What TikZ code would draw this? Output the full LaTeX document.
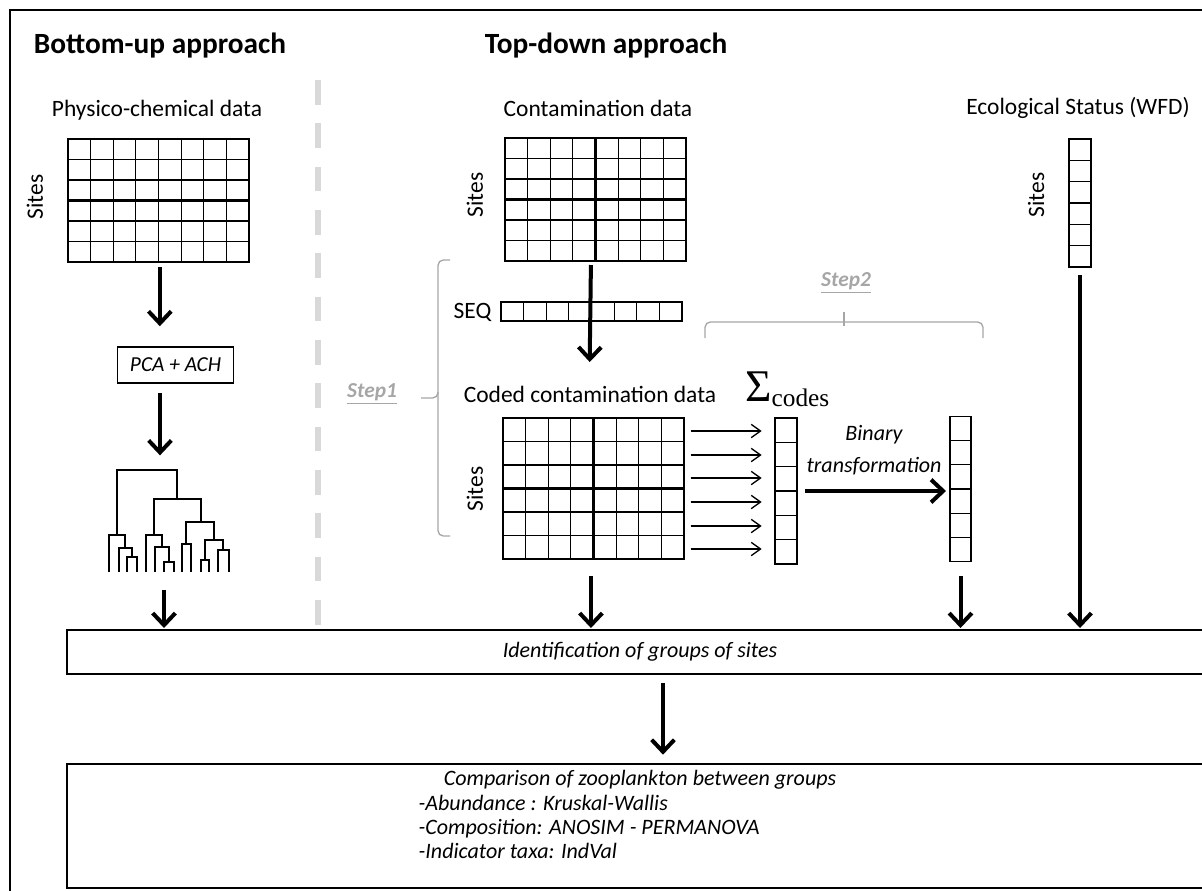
\documentclass[tikz,border=0pt]{standalone}
\usepackage{fontspec}
\setmainfont{Carlito}
\newfontfamily\sigmafont{Liberation Serif}
\usepackage{tikz}
\usetikzlibrary{arrows.meta,calc,positioning}
\definecolor{stepgray}{RGB}{166,166,166}
\definecolor{splitgray}{RGB}{217,217,217}
\newcommand{\pxu}{0.75pt}
% inner lines of a data table: node, number of cuts, number of cells
\newcommand{\colcuts}[3]{\foreach \k in {1,...,#2}
  \draw[cellline] ($(#1.north west)!\k/#3!(#1.north east)$) -- ($(#1.south west)!\k/#3!(#1.south east)$);}
\newcommand{\rowcuts}[3]{\foreach \k in {1,...,#2}
  \draw[cellline] ($(#1.north west)!\k/#3!(#1.south west)$) -- ($(#1.north east)!\k/#3!(#1.south east)$);}
\tikzset{
  heading/.style = {font=\fontsize{22}{26}\selectfont\bfseries},
  caption/.style = {font=\fontsize{17.6}{21}\selectfont},
  sites/.style   = {caption, rotate=90},
  table/.style   = {draw, line width=1pt, inner sep=0pt, outer sep=0pt},
  cellline/.style = {line width=0.8pt},
  midline/.style = {line width=1.6pt},
  flow/.style    = {line width=3pt, -{Straight Barb[length=9pt,width=17pt]}},
  thinflow/.style = {line width=1pt, -{Straight Barb[length=7pt,width=10pt]}},
  method/.style  = {draw, line width=1.2pt, inner sep=0pt,
                    font=\fontsize{16}{19}\selectfont\itshape},
  stage/.style   = {draw, line width=1.5pt, inner sep=0pt, outer sep=0pt},
  note/.style    = {font=\fontsize{16.5}{24}\selectfont\itshape},
  steplabel/.style = {text=stepgray, font=\fontsize{16}{19}\selectfont\bfseries\itshape},
  bracket/.style = {draw=stepgray, line width=1pt, rounded corners=4pt},
  tree/.style    = {line width=1.7pt},
}
\begin{document}
\begin{tikzpicture}[x=0.75pt, y=-0.75pt]
	\useasboundingbox (0,0) rectangle (1202,890);
	\clip (0,0) rectangle (1202,890);
	\draw[line width=2pt] (10,920) -- (10,10) -- (1230,10);
	\draw[splitgray, line width=3.8pt, dash pattern=on 18.5pt off 14pt] (318,80) -- (318,625);

	\node[heading] (bottomup) at (160,46) {Bottom-up approach};
	\node[heading] (topdown) at (606,46) {Top-down approach};

	% bottom-up column
	\node[caption] (physlabel) at (157,110) {Physico-chemical data};
	\node[table, minimum width=181*\pxu, minimum height=123*\pxu] (phys) at (158.5,200.5) {};
	\colcuts{phys}{7}{8}
	\rowcuts{phys}{5}{6}
	\draw[midline] (phys.west) -- (phys.east);
	\node[sites] (physsites) at (35,197) {Sites};
	\node[method, minimum width=116*\pxu, minimum height=36*\pxu] (pca) at (175.5,365) {PCA + ACH};
	\coordinate (treetop) at (160,470);
	\coordinate (treefoot) at (164,590);
	\draw[tree] (116.7,535) -- (116.7,470) -- (177.3,470) -- (177.3,499);
	\draw[tree] (154,535) -- (154,499) -- (200.7,499) -- (200.7,521.7);
	\draw[tree] (109,572) -- (109,535) -- (125,535) -- (125,548);
	\draw[tree] (119,572) -- (119,548) -- (132,548) -- (132,557);
	\draw[tree] (127,572) -- (127,557) -- (137,557) -- (137,572);
	\draw[tree] (145.7,572) -- (145.7,535) -- (161.7,535) -- (161.7,547);
	\draw[tree] (155,572) -- (155,547) -- (169,547) -- (169,562);
	\draw[tree] (164,572) -- (164,562) -- (174,562) -- (174,572);
	\draw[tree] (186,544.3) -- (186,521.7) -- (214,521.7) -- (214,540);
	\draw[tree] (181.7,572) -- (181.7,544.3) -- (191,544.3) -- (191,572);
	\draw[tree] (205.3,560) -- (205.3,540) -- (223.3,540) -- (223.3,550);
	\draw[tree] (200.7,572) -- (200.7,560) -- (209.3,560) -- (209.3,572);
	\draw[tree] (218.3,572) -- (218.3,550) -- (228.7,550) -- (228.7,572);

	% top-down column
	\node[caption] (contlabel) at (598,108) {Contamination data};
	\node[table, minimum width=181*\pxu, minimum height=123*\pxu] (cont) at (595.5,199.5) {};
	\colcuts{cont}{7}{8}
	\rowcuts{cont}{5}{6}
	\draw[midline] (cont.west) -- (cont.east);
	\draw[midline] (cont.north) -- (cont.south);
	\node[sites] (contsites) at (475,195) {Sites};
	\node[table, minimum width=181*\pxu, minimum height=19*\pxu] (seq) at (591.5,311.5) {};
	\colcuts{seq}{7}{8}
	\node[caption, anchor=east] (seqlabel) at (496,312) {SEQ};
	\node[caption] (codedlabel) at (590,394) {Coded contamination data};
	\node[table, minimum width=181*\pxu, minimum height=141*\pxu] (coded) at (593.5,488.5) {};
	\colcuts{coded}{7}{8}
	\rowcuts{coded}{5}{6}
	\draw[midline] (coded.west) -- (coded.east);
	\draw[midline] (coded.north) -- (coded.south);
	\node[sites] (codedsites) at (475,489) {Sites};
	\node[anchor=base west, inner sep=0pt] (sigma) at (745,401)
		{\sigmafont\fontsize{34}{34}\selectfont Σ\raisebox{-4pt}{\fontsize{19}{19}\selectfont codes}};
	\node[table, minimum width=22*\pxu, minimum height=146*\pxu] (sigcol) at (786,491) {};
	\rowcuts{sigcol}{5}{6}
	\node[note, align=center] (binlabel) at (874,450) {Binary\\transformation};
	\node[table, minimum width=21*\pxu, minimum height=144.5*\pxu] (bincol) at (960.5,489) {};
	\rowcuts{bincol}{5}{6}
	\node[caption] (ecolabel) at (1078,108) {Ecological Status (WFD)};
	\node[table, minimum width=22*\pxu, minimum height=128*\pxu] (eco) at (1080,203) {};
	\rowcuts{eco}{5}{6}
	\node[sites] (ecosites) at (1036,195) {Sites};

	% steps
	\draw[bracket] (450,260) -- (438,260) -- (438,398) -- (421,398);
	\draw[bracket] (438,392) -- (438,536) -- (450,536);
	\node[steplabel] (step1) at (372,394) {\underline{Step1}};
	\draw[bracket] (705,338) -- (705,322) -- (983,322) -- (983,338);
	\draw[bracket] (844,326) -- (844,312);
	\node[steplabel] (step2) at (846,283) {\underline{Step2}};

	% groups and comparison
	\node[stage, minimum width=1146*\pxu, minimum height=44*\pxu] (idbox) at (640,652) {};
	\node[note] (idtext) at (640,652) {Identification of groups of sites};
	\node[stage, minimum width=1146*\pxu, minimum height=124*\pxu] (compbox) at (640,826) {};
	\node[note] (comptitle) at (640,780) {Comparison of zooplankton between groups};
	\node[note, anchor=west, align=left, font=\fontsize{16.5}{18}\selectfont\itshape] (complist) at (414,827)
		{-Abundance : Kruskal-Wallis\\
		-Composition: ANOSIM - PERMANOVA\\
		-Indicator taxa: IndVal};

	% arrows
	\draw[flow, shorten <=4pt, shorten >=15pt] ([xshift=1pt]phys.south) -- ([xshift=1pt]phys.south |- pca.north);
	\draw[flow, shorten <=7pt, shorten >=11pt] (pca.south -| treetop) -- (treetop);
	\draw[flow, shorten >=1.5pt] (treefoot) -- (treefoot |- idbox.north);
	\draw[flow, shorten <=3pt, shorten >=42pt] ([xshift=-3.4pt]cont.south) -- ([xshift=-3.4pt]coded.north);
	\foreach \yy in {431,455,478,502,526,549}
		\draw[thinflow, shorten <=5pt, shorten >=10pt] (coded.east |- 0,\yy) -- (sigcol.west |- 0,\yy);
	\draw[flow, shorten <=6pt, shorten >=3pt] (sigcol.east |- 0,491) -- (bincol.west |- 0,491);
	\draw[flow, shorten <=13pt, shorten >=1.5pt] ([xshift=-1.9pt]coded.south) -- ([xshift=-1.9pt]coded.south |- idbox.north);
	\draw[flow, shorten <=11pt, shorten >=1.5pt] (bincol.south) -- (bincol.south |- idbox.north);
	\draw[flow, shorten <=6pt, shorten >=1.5pt] (eco.south) -- (eco.south |- idbox.north);
	\draw[flow, shorten <=7pt, shorten >=7pt] ([xshift=17.25pt]idbox.south) -- ([xshift=17.25pt]compbox.north);
\end{tikzpicture}
\end{document}
